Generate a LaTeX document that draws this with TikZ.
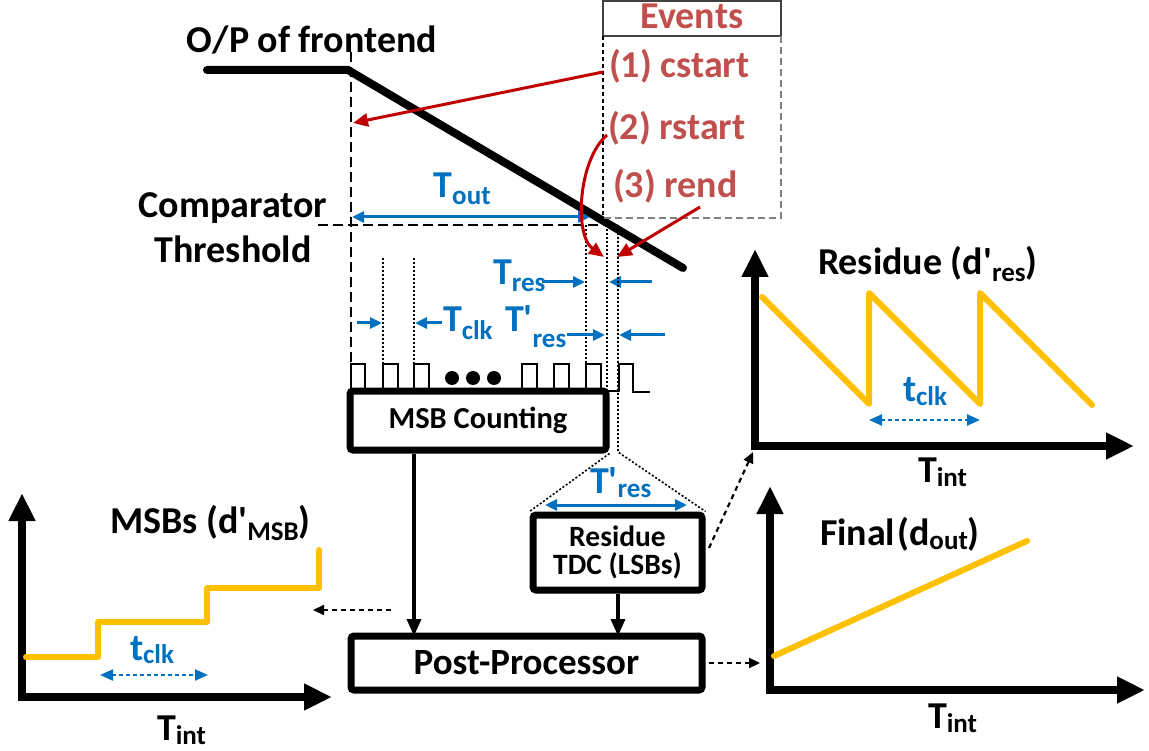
\documentclass[tikz,border=0pt]{standalone}
\usepackage{fontspec}
\setmainfont{Carlito}
\usetikzlibrary{arrows.meta}
\definecolor{evred}{HTML}{C0504D}
\definecolor{arred}{HTML}{C00000}
\definecolor{tblue}{HTML}{0070C0}
\definecolor{gold}{HTML}{FFC000}
\newcommand{\sz}[1]{\fontsize{#1}{#1}\selectfont}
\newcommand{\lowsub}[2][0.16em]{\raisebox{-#1}{\sz{27}#2}}
\newcommand{\pr}{\textquotesingle}
\tikzset{
  lbl/.style={font=\sz{38}\bfseries, inner sep=0pt, outer sep=0pt},
  blockbox/.style={draw, line width=7pt, rounded corners=3pt, inner sep=0pt, align=center},
  dimarrow/.style={tblue, line width=3pt, -{Triangle[length=12pt,width=11pt]}},
  dimboth/.style={tblue, line width=3pt, {Triangle[length=12pt,width=11pt]}-{Triangle[length=12pt,width=11pt]}},
  clkdim/.style={tblue, line width=2.2pt, dash pattern=on 4pt off 3pt, {Triangle[length=13pt,width=11pt]}-{Triangle[length=13pt,width=11pt]}},
  redarrow/.style={arred, line width=3pt, -{Triangle[length=15pt,width=13pt]}},
  flow/.style={line width=3.5pt, -{Triangle[length=17pt,width=14pt]}},
  dataflow/.style={line width=2.2pt, dash pattern=on 5pt off 4pt, -{Triangle[length=11pt,width=10pt]}},
  axis/.style={line width=8pt, {Triangle[length=28pt,width=25pt]}-{Triangle[length=28pt,width=25pt]}},
  curve/.style={gold, line width=6pt, line cap=round, line join=round},
  guide/.style={line width=1.6pt, dash pattern=on 10pt off 5pt},
  edgeline/.style={line width=1.6pt, dash pattern=on 2pt off 2pt},
  wave/.style={line width=1.3pt},
}
\begin{document}
\begin{tikzpicture}[x=1pt,y=-1pt]
\useasboundingbox (0,0) rectangle (1149,751);

% ---------- frontend output and threshold ----------
\node[lbl, anchor=base] (op) at (312,53) {O/P of frontend};
\draw[line width=8pt, line cap=round] (207,70) -- (348,70) -- (683,268);
\draw[guide] (351,52) -- (351,390);
\draw[guide] (318,225) -- (603,225);
\node[lbl, anchor=base] (cmp1) at (233,218) {Comparator};
\node[lbl, anchor=base] (cmp2) at (233,263) {Threshold};
\node[lbl, tblue, anchor=base] (tout) at (462,198) {T\lowsub{out}};
\coordinate (toutL) at (352,217);
\coordinate (toutR) at (590,217);
\draw[dimboth] (toutL) -- (toutR);

% ---------- events legend ----------
\draw[black!75, line width=1.5pt] (603,1) rectangle (781,36);
\draw[line width=1.2pt, dash pattern=on 4pt off 3pt] (603,36) -- (603,218);
\draw[black!50, line width=2pt, dash pattern=on 7pt off 4pt] (781,36) -- (781,218) -- (603,218);
\node[lbl, evred, anchor=base] (evh) at (692,29) {Events};
\node[lbl, evred, anchor=base west] (ev1) at (609,78) {(1) cstart};
\node[lbl, evred, anchor=base west] (ev2) at (608,140) {(2) rstart};
\node[lbl, evred, anchor=base west] (ev3) at (613,198) {(3) rend};

% ---------- clock edges ----------
\draw[edgeline] (383,258) -- (383,390);
\draw[edgeline] (414,258) -- (414,390);
\draw[edgeline] (586,225) -- (586,390);
\draw[edgeline] (607,225) -- (607,390);

% event markers
\coordinate (e1s) at (603,72);  \coordinate (e1t) at (353,123);
\coordinate (e2s) at (607,135); \coordinate (e2t) at (604,257);
\coordinate (e3s) at (700,207); \coordinate (e3t) at (617,257);
\draw[redarrow] (e1s) -- (e1t);
\draw[redarrow] (e2s) .. controls (578,160) and (574,235) .. (e2t);
\draw[redarrow] (e3s) -- (e3t);

% clock waveform
\draw[wave] (351,391) -- (351,364) -- (365,364) -- (365,391) -- (383,391) -- (383,364) -- (398,364) -- (398,391)
  -- (414,391) -- (414,364) -- (429,364) -- (429,391);
\draw[wave] (522,391) -- (522,364) -- (537,364) -- (537,391) -- (554,391) -- (554,364) -- (569,364) -- (569,391)
  -- (586,391) -- (586,364) -- (601,364) -- (601,391) -- (619,391) -- (619,364) -- (633,364) -- (633,392) -- (650,392);
\fill (452,378) circle[radius=7pt];
\fill (473,378) circle[radius=7pt];
\fill (494,378) circle[radius=7pt];

% time intervals
\node[lbl, tblue, anchor=base west] (tres) at (493,285) {T\lowsub[0.17em]{res}};
\draw[dimarrow] (542,282) -- (585,282);
\draw[dimarrow] (652,282) -- (609,282);
\node[lbl, tblue, anchor=base west] (tclk) at (443,332) {T\lowsub[0.2em]{clk}};
\draw[dimarrow] (357,323) -- (382,323);
\draw[dimarrow] (442,323) -- (415,323);
\node[lbl, tblue, anchor=base west] (tpres) at (505,332) {T\pr\lowsub[0.42em]{res}};
\draw[dimarrow] (567,335) -- (605,335);
\draw[dimarrow] (665,335) -- (619,335);

% ---------- processing blocks ----------
\node[blockbox, minimum width=256pt, minimum height=59pt, font=\sz{30.5}\bfseries] (msb) at (478,420.5) {MSB Counting};
\node[blockbox, minimum width=169pt, minimum height=75pt, font=\sz{29.5}\bfseries] (tdc) at (617.5,552.5)
  {Residue\\[-2pt]TDC (LSBs)};
\node[blockbox, minimum width=351pt, minimum height=54pt, font=\sz{37}\bfseries] (post) at (526.5,663) {Post-Processor};

\coordinate (split) at (618,452);
\draw[edgeline] (618,225) -- (split) -- (tdc.north east);
\draw[edgeline] (msb.south east) -- (tdc.north west);
\node[lbl, tblue, anchor=base west] (tpres2) at (590,493) {T\pr\lowsub[0.13em]{res}};
\draw[dimboth] (545,505) -- (687,505);

\coordinate (xmsb) at (414,0);
\coordinate (xtdc) at (618,0);
\draw[flow] (xmsb |- msb.south) -- ([yshift=-3.5pt]xmsb |- post.north);
\draw[flow] (xtdc |- tdc.south) -- ([yshift=-3.5pt]xtdc |- post.north);

% ---------- residue plot ----------
\coordinate (rt) at (755,249);
\coordinate (ro) at (755,446);
\coordinate (rr) at (1134,446);
\draw[axis] (rt) -- (ro) -- (rr);
\draw[curve] (762,297) -- (869,404) -- (869,293) -- (980,404) -- (980,293) -- (1092,405);
\draw[clkdim] (869,420) -- (980,420);
\node[lbl, anchor=base west] (rtitle) at (818,275) {Residue (d\pr\lowsub[0.17em]{res})};
\node[lbl, tblue, anchor=base west] (rclk) at (903,402) {t\lowsub[0.1em]{clk}};
\node[lbl, anchor=base west] (rint) at (918,482) {T\lowsub[0.13em]{int}};

% ---------- final plot ----------
\coordinate (ft) at (770,486);
\coordinate (fo) at (770,690);
\coordinate (fr) at (1145,690);
\draw[axis] (ft) -- (fo) -- (fr);
\draw[curve] (774,656) -- (1027,541);
\node[lbl, anchor=base west] (ftitle) at (820,545) {Final\hspace{2pt}(d\lowsub[0.13em]{out})};
\node[lbl, anchor=base west] (fint) at (928,728) {T\lowsub[0.13em]{int}};

% ---------- MSB plot ----------
\coordinate (mt) at (22,493);
\coordinate (mo) at (22,697);
\coordinate (mr) at (332,697);
\draw[axis] (mt) -- (mo) -- (mr);
\draw[curve] (26,657) -- (98,657) -- (98,622) -- (207,622) -- (207,588) -- (319,588) -- (319,550);
\draw[clkdim] (100,675) -- (208,675);
\node[lbl, anchor=base west] (mtitle) at (110,533) {MSBs (d\pr\lowsub[0.2em]{MSB})};
\node[lbl, tblue, anchor=base west] (mclk) at (130,660) {t\lowsub[0.1em]{clk}};
\node[lbl, anchor=base west] (mint) at (157,740) {T\lowsub[0.13em]{int}};

% ---------- data hand-offs ----------
\coordinate (toMsbPlot) at (313,610);
\coordinate (fromMsb) at (391,610);
\draw[dataflow] (fromMsb) -- (toMsbPlot);
\coordinate (tdcOut) at (709,548);
\coordinate (toResPlot) at (753,452);
\draw[dataflow] (tdcOut) -- (toResPlot);
\coordinate (postOut) at (709,663);
\coordinate (toFinalPlot) at (760,663);
\draw[dataflow] (postOut) -- (toFinalPlot);
\end{tikzpicture}
\end{document}
